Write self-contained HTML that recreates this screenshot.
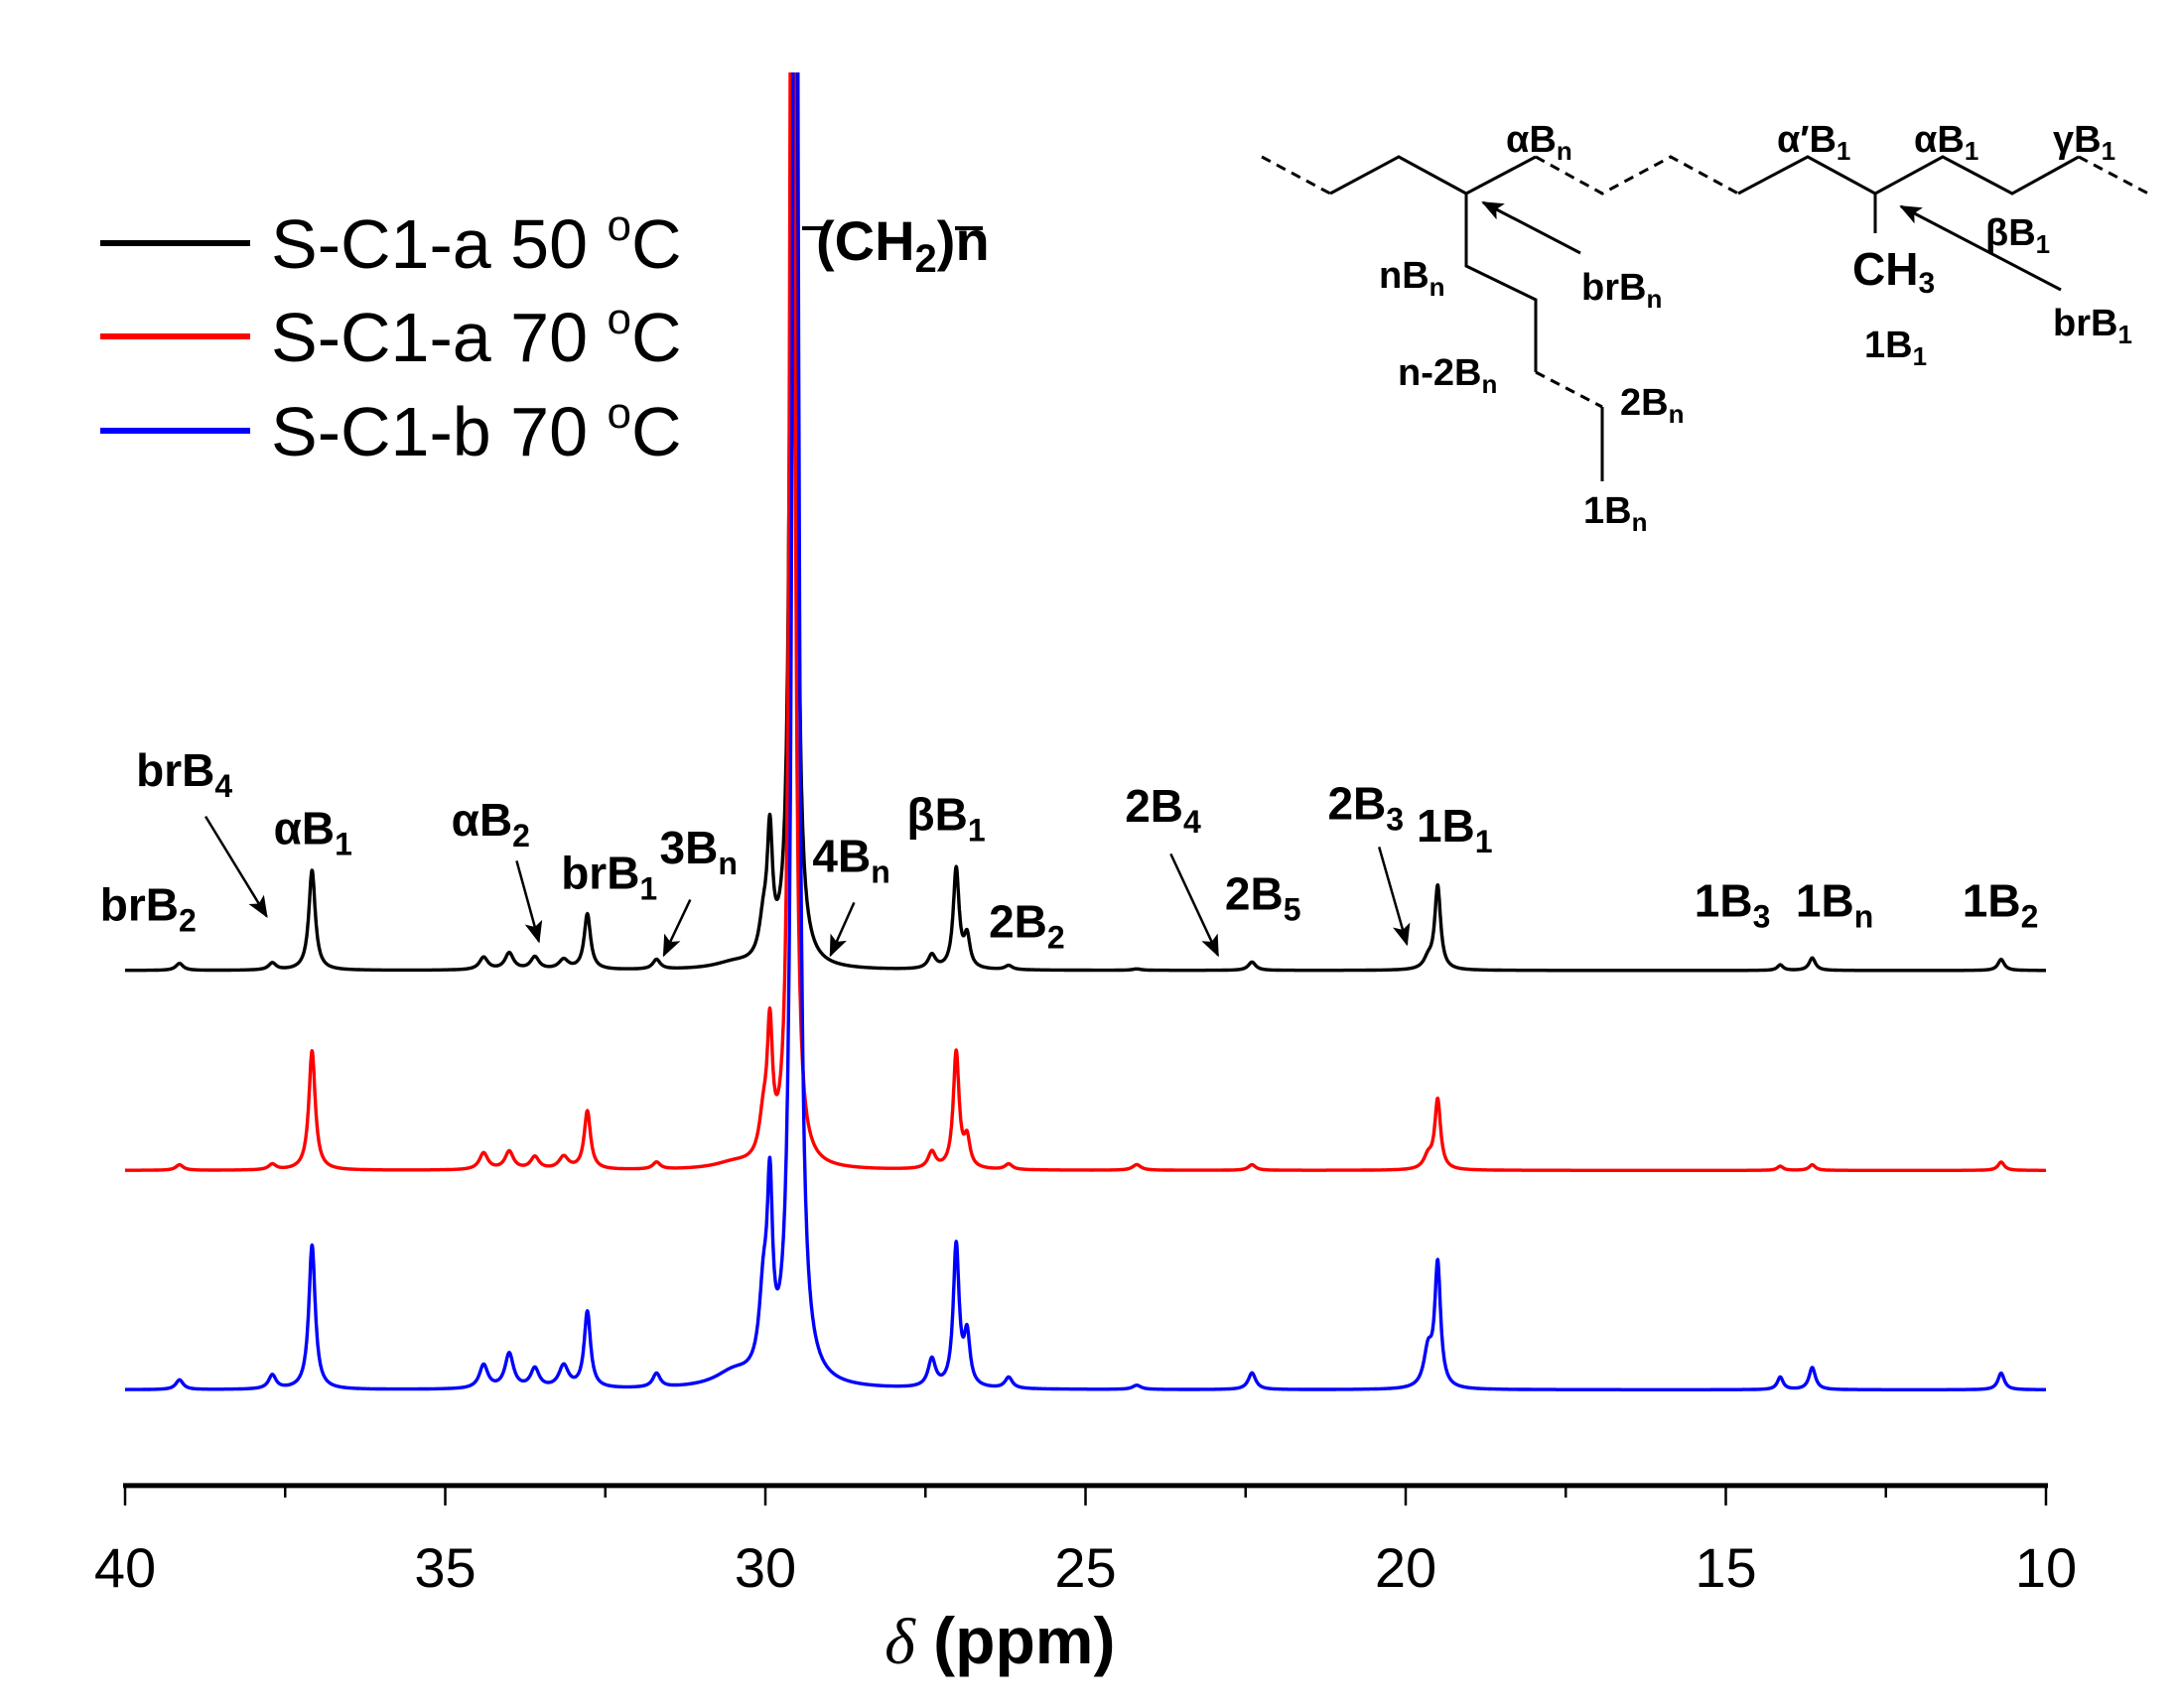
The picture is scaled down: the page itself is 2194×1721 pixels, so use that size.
<!DOCTYPE html>
<html><head><meta charset="utf-8"><style>
html,body{margin:0;padding:0;background:#fff}
svg{display:block}
text{font-family:"Liberation Sans",Arial,sans-serif}
.lb{font-weight:bold;font-size:46px}
.st{font-weight:bold;font-size:38px}
</style></head><body>
<svg id="chart" width="2194" height="1721" viewBox="0 0 2194 1721" xmlns="http://www.w3.org/2000/svg">
<defs><clipPath id="plotclip"><rect x="120" y="73" width="1970" height="1425"/></clipPath>
<marker id="ah2" markerWidth="22" markerHeight="18" refX="20" refY="9" orient="auto" markerUnits="userSpaceOnUse"><path d="M0,0 L22,9 L0,18 L5,9 z" fill="#000"/></marker></defs>
<g id="axes"></g>
<g id="spectra" clip-path="url(#plotclip)"></g>
<g>
<line x1="101" y1="245" x2="252" y2="245" stroke="#000" stroke-width="6"/>
<text x="273" y="270" font-size="70">S-C1-a 50 <tspan dy="-28" font-size="44">o</tspan><tspan dy="28">C</tspan></text>
<line x1="101" y1="339" x2="252" y2="339" stroke="#f00" stroke-width="6"/>
<text x="273" y="364" font-size="70">S-C1-a 70 <tspan dy="-28" font-size="44">o</tspan><tspan dy="28">C</tspan></text>
<line x1="101" y1="434" x2="252" y2="434" stroke="#00f" stroke-width="6"/>
<text x="273" y="459" font-size="70">S-C1-b 70 <tspan dy="-28" font-size="44">o</tspan><tspan dy="28">C</tspan></text>
</g>
<g>
<text x="822" y="262" font-weight="bold" font-size="56">(CH<tspan dy="12" font-size="40">2</tspan><tspan dy="-12">)</tspan>n</text>
<line x1="808" y1="230" x2="832" y2="230" stroke="#000" stroke-width="4"/><line x1="962" y1="230" x2="990" y2="230" stroke="#000" stroke-width="4"/>
</g>
<g id="annots"></g>
<g stroke="#000" stroke-width="3" fill="none">
<polyline points="1340,195 1409,158 1477,195 1547,158"/>
<polyline points="1751,195 1821,158 1889,195 1957,158 2027,195 2094,158"/>
<g stroke-dasharray="10,7"><line x1="1271" y1="158" x2="1340" y2="195"/><polyline points="1547,158 1614,195 1683,158 1751,195"/><line x1="2094" y1="158" x2="2164" y2="195"/><line x1="1547" y1="375" x2="1614" y2="410"/></g>
<polyline points="1477,195 1477,268 1547,302 1547,375"/>
<line x1="1614" y1="410" x2="1614" y2="485"/>
<line x1="1889" y1="195" x2="1889" y2="235"/>
<line x1="1592" y1="255" x2="1494" y2="204" marker-end="url(#ah2)"/>
<line x1="2076" y1="292" x2="1915" y2="208" marker-end="url(#ah2)"/>
</g>
<g>
<text class="st" x="1517" y="153">αB<tspan dy="8" font-size="26">n</tspan></text>
<text class="st" x="1790" y="153">α′B<tspan dy="8" font-size="26">1</tspan></text>
<text class="st" x="1928" y="153">αB<tspan dy="8" font-size="26">1</tspan></text>
<text class="st" x="2068" y="153">γB<tspan dy="8" font-size="26">1</tspan></text>
<text class="st" x="1389" y="290">nB<tspan dy="8" font-size="26">n</tspan></text>
<text class="st" x="1593" y="302">brB<tspan dy="8" font-size="26">n</tspan></text>
<text class="st" x="1866" y="287" style="font-size:46px">CH<tspan dy="8" font-size="30">3</tspan></text>
<text class="st" x="2000" y="247">βB<tspan dy="8" font-size="26">1</tspan></text>
<text class="st" x="2068" y="338">brB<tspan dy="8" font-size="26">1</tspan></text>
<text class="st" x="1878" y="360">1B<tspan dy="8" font-size="26">1</tspan></text>
<text class="st" x="1408" y="388">n-2B<tspan dy="8" font-size="26">n</tspan></text>
<text class="st" x="1632" y="418">2B<tspan dy="8" font-size="26">n</tspan></text>
<text class="st" x="1595" y="527">1B<tspan dy="8" font-size="26">n</tspan></text>
</g>
</svg>
<script>
// ---- data ----
const peakPpm   = [39.15, 37.7, 37.08, 34.4, 34.0, 33.6, 33.15, 32.78, 31.7, 30.5, 30.03, 29.93, 27.4, 27.02, 26.85, 26.2, 24.2, 22.4, 19.65, 19.5, 14.15, 13.65, 10.7];
const peakWidth = [0.07, 0.07, 0.06, 0.08, 0.08, 0.08, 0.09, 0.06, 0.07, 0.35, 0.08, 0.05, 0.07, 0.055, 0.055, 0.07, 0.08, 0.07, 0.08, 0.055, 0.055, 0.06, 0.06];
const blackHeights = [5, 5, 72, 9, 12, 9, 7, 40, 7, 4, 26, 85, 10, 72, 22, 3, 1, 6, 7, 60, 4, 9, 8];
const redHeights   = [4, 4, 86, 12, 13, 9, 9, 42, 5, 4, 28, 88, 12, 84, 20, 4, 4, 4, 9, 50, 3, 4, 6];
const blueHeights  = [7, 10, 104, 17, 25, 14, 16, 55, 10, 10, 55, 120, 20, 102, 36, 8, 3, 12, 26, 88, 9, 16, 12];
const mainPpm    = [29.56, 29.58, 29.53];
const mainHeight = [1400, 1300, 1500];
const mainWidth  = [0.04, 0.04, 0.05];
const seriesNames = ['black-spectrum', 'red-spectrum', 'blue-spectrum'];
const seriesColors = ['#000', '#f00', '#00f'];
const seriesBase = [699, 843, 1001]; // baseline offset in display units
const xTicks = [40, 35, 30, 25, 20, 15, 10];
const xMinor = [37.5, 32.5, 27.5, 22.5, 17.5, 12.5];

const S = 1.399;
const NS = 'http://www.w3.org/2000/svg';
function X(p){ return 126 + (40 - p) * (2061 - 126) / 30; }
function Y(base, v){ return (base - v) * S; }

const axes = document.getElementById('axes');
function mk(tag, attrs, parent){ const e = document.createElementNS(NS, tag); for (const k in attrs) e.setAttribute(k, attrs[k]); parent.appendChild(e); return e; }
const AY = 1070 * S;
const al = mk('line', {x1:124, y1:AY, x2:2063, y2:AY, stroke:'#000', 'stroke-width':5}, axes);


xTicks.forEach(t => {
  const l = mk('line', {x1:X(t), y1:AY, x2:X(t), y2:AY + 20, stroke:'#000', 'stroke-width':2.5}, axes);
  
  
  const tx = mk('text', {x:X(t), y:1143 * S, 'text-anchor':'middle', 'font-size':56}, axes);
  
  
  tx.textContent = t;
});
xMinor.forEach(t => {
  const l = mk('line', {x1:X(t), y1:AY, x2:X(t), y2:AY + 12, stroke:'#000', 'stroke-width':2.5}, axes);
  
  
});
const xt = mk('text', {x:720 * S, y:1198 * S, 'text-anchor':'middle', 'font-size':66, 'font-weight':'bold'}, axes);


xt.innerHTML = '<tspan font-style="italic" font-family="Liberation Serif, serif" font-weight="normal">δ</tspan> (ppm)';

const sp = document.getElementById('spectra');
const heightsAll = [blackHeights, redHeights, blueHeights];
for (let s = 0; s < 3; s++) {
  let d = '';
  for (let i = 0; i <= 6000; i++) {
    const p = 40 - i * 0.005;
    let v = 0;
    for (let k = 0; k < peakPpm.length; k++) {
      const dd = p - peakPpm[k], w = peakWidth[k];
      v += heightsAll[s][k] * w * w / (dd * dd + w * w);
    }
    const dm = p - mainPpm[s], wm = mainWidth[s];
    v += mainHeight[s] * wm * wm / (dm * dm + wm * wm);
    d += (i ? 'L' : 'M') + X(p).toFixed(1) + ',' + Y(seriesBase[s], v).toFixed(1);
  }
  const path = mk('path', {d:d, fill:'none', stroke:seriesColors[s], 'stroke-width':3.4, 'stroke-linejoin':'round'}, sp);
  
  
}

const annots = document.getElementById('annots');
const labels = [
  ['brB','2',72,663],['brB','4',98,566],['αB','1',197,608],['αB','2',325,602],['brB','1',404,640],
  ['3B','n',475,622],['4B','n',585,628],['βB','1',653,598],['2B','2',712,675],['2B','4',810,592],
  ['2B','5',882,655],['2B','3',956,590],['1B','1',1020,606],['1B','3',1220,660],['1B','n',1293,660],['1B','2',1413,660]
];
labels.forEach(l => {
  const t = mk('text', {x:l[2]*S, y:l[3]*S, class:'lb'}, annots);
  
  
  t.innerHTML = l[0] + '<tspan dy="11" font-size="32">' + l[1] + '</tspan>';
});
const arrows = [[148,588,192,660],[372,620,388,678],[497,648,478,688],[615,650,598,688],[843,615,877,688],[993,610,1013,680]];
arrows.forEach(a => {
  const l = mk('line', {x1:a[0]*S, y1:a[1]*S, x2:a[2]*S, y2:a[3]*S, stroke:'#000', 'stroke-width':2.5, 'marker-end':'url(#ah2)'}, annots);
  
  
});
</script>
</body></html>
